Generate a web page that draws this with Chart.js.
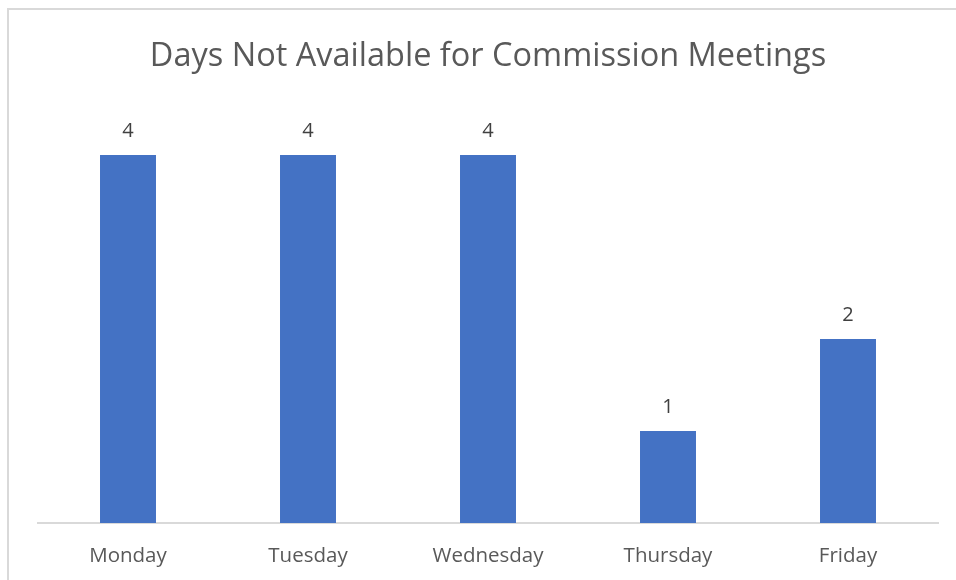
<!DOCTYPE html>
<html>
<head>
<meta charset="utf-8">
<script src="https://cdn.jsdelivr.net/npm/chart.js@4.4.0/dist/chart.umd.min.js"></script>
<style>
  body { margin: 0; background: #fff; }
  #frame { position: absolute; left: 7px; top: 8px; width: 1000px; height: 1000px; border: 2px solid #d9d9d9; }
  #wrap { position: absolute; left: 0; top: 0; width: 956px; height: 580px; }
</style>
</head>
<body>
<div id="frame"></div>
<div id="wrap"><canvas id="myChart" width="956" height="580"></canvas></div>
<script>
var days = ['Monday', 'Tuesday', 'Wednesday', 'Thursday', 'Friday'];
var counts = [4, 4, 4, 1, 2];
var chartTitle = 'Days Not Available for Commission Meetings';

// draw the value above each bar
var valueLabels = {
  id: 'valueLabels',
  afterDatasetsDraw: function(chart) {
    var ctx = chart.ctx;
    var meta = chart.getDatasetMeta(0);
    ctx.save();
    ctx.font = '20px "Open Sans"';
    ctx.fillStyle = '#404040';
    ctx.textAlign = 'center';
    ctx.textBaseline = 'middle';
    meta.data.forEach(function(bar, i) {
      ctx.fillText(counts[i], bar.x, bar.y - 24);
    });
    ctx.restore();
  }
};

var ctx = document.getElementById('myChart').getContext('2d');
var mychart = new Chart(ctx, {
  type: 'bar',
  data: {
    labels: days,
    datasets: [{
      data: counts,
      backgroundColor: '#4472c4',
      barPercentage: 0.311,
      categoryPercentage: 1
    }]
  },
  options: {
    responsive: false,
    animation: false,
    layout: { padding: { left: 38, right: 18, top: 0, bottom: 0 } },
    plugins: {
      legend: { display: false },
      tooltip: { enabled: false },
      title: {
        display: true,
        text: chartTitle,
        color: '#595959',
        font: { family: 'Open Sans', size: 32.5, weight: 'normal' },
        padding: { top: 37.5, bottom: 78.5 }
      }
    },
    scales: {
      x: {
        grid: { display: false, drawTicks: false },
        border: { display: true, color: '#d9d9d9', width: 2 },
        ticks: { color: '#595959', font: { family: 'Open Sans', size: 20.5 }, padding: 21 },
        afterFit: function(scale) { scale.height = 57; }
      },
      y: {
        display: false,
        min: 0,
        max: 4
      }
    }
  },
  plugins: [valueLabels]
});
</script>
</body>
</html>
